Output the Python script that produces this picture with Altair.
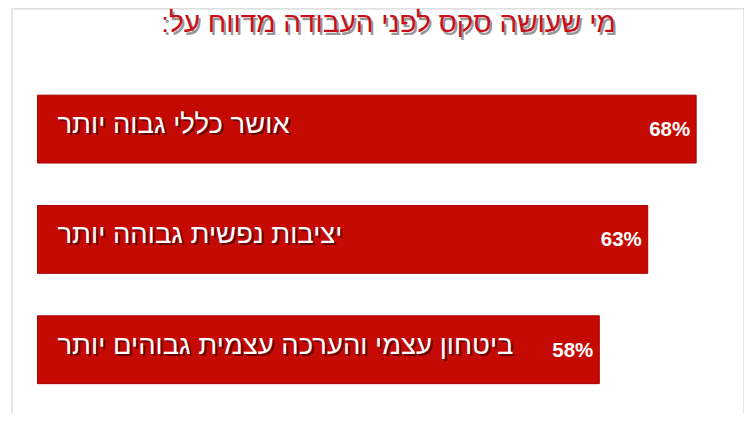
import altair as alt
import pandas as pd

title_text = ["מי שעושה סקס לפני העבודה מדווח על:\u200f"]
categories = ["אושר כללי גבוה יותר", "יציבות נפשית גבוהה יותר", "ביטחון עצמי והערכה עצמית גבוהים יותר"]
values = [68, 63, 58]
value_labels = ["68%", "63%", "58%"]

df = pd.DataFrame({"cat": categories, "value": values, "label": value_labels, "start": [0, 0, 0]})
tdf = pd.DataFrame({"t": title_text})

FONT = "Liberation Sans"
RED = "#c50a04"
W, H = 733, 406

xscale = alt.Scale(domain=[-2.63, 72.94], nice=False, zero=False)
x = alt.X("value:Q", scale=xscale, axis=None)
x0 = alt.X("start:Q", scale=xscale, axis=None)
y = alt.Y("cat:N", sort=None, axis=None,
          scale=alt.Scale(paddingInner=0.385, paddingOuter=0.53, align=0.743))

base = alt.Chart(df)

bars = base.mark_bar(color=RED, stroke="#a80000", strokeWidth=1).encode(x=x, y=y)

cat_shadow = base.mark_text(align="left", baseline="middle", font=FONT, fontSize=27.5,
                            color="#2a0000", opacity=0.6, dx=22, dy=-2).encode(
    x=x0, y=y, text="cat:N")
cat_text = base.mark_text(align="left", baseline="middle", font=FONT, fontSize=27.5,
                          color="white", dx=20, dy=-4).encode(
    x=x0, y=y, text="cat:N")

pct_text = base.mark_text(align="right", baseline="middle", font=FONT, fontSize=20.5,
                          fontWeight="bold", color="white", dx=-6, dy=1).encode(
    x=x, y=y, text="label:N")

title_shadow = alt.Chart(tdf).mark_text(align="center", baseline="middle", font=FONT,
                                        fontSize=28, color="#555555", opacity=0.6,
                                        dx=2, dy=3).encode(
    x=alt.value(377), y=alt.value(16), text="t:N")
title_main = alt.Chart(tdf).mark_text(align="center", baseline="middle", font=FONT,
                                      fontSize=28, color="#c8101a").encode(
    x=alt.value(377), y=alt.value(16), text="t:N")

frame_style = dict(color="#d6d6d6", strokeWidth=1.2)
frame_left = alt.Chart(tdf).mark_rule(**frame_style).encode(
    x=alt.value(0), y=alt.value(0), y2=alt.value(H))
frame_right = alt.Chart(tdf).mark_rule(**frame_style).encode(
    x=alt.value(W), y=alt.value(0), y2=alt.value(H))
frame_top = alt.Chart(tdf).mark_rule(**frame_style).encode(
    x=alt.value(0), x2=alt.value(W), y=alt.value(0.6))

chart = alt.layer(frame_left, frame_right, frame_top, bars, cat_shadow, cat_text, pct_text,
                  title_shadow, title_main).properties(
    width=W, height=H,
    padding={"left": 4, "top": 0, "right": 0, "bottom": 0},
    autosize=alt.AutoSizeParams(type="none"),
    background="white",
).configure_view(stroke=None)

chart.save("out.html", embed_options={"renderer": "svg", "actions": False})
